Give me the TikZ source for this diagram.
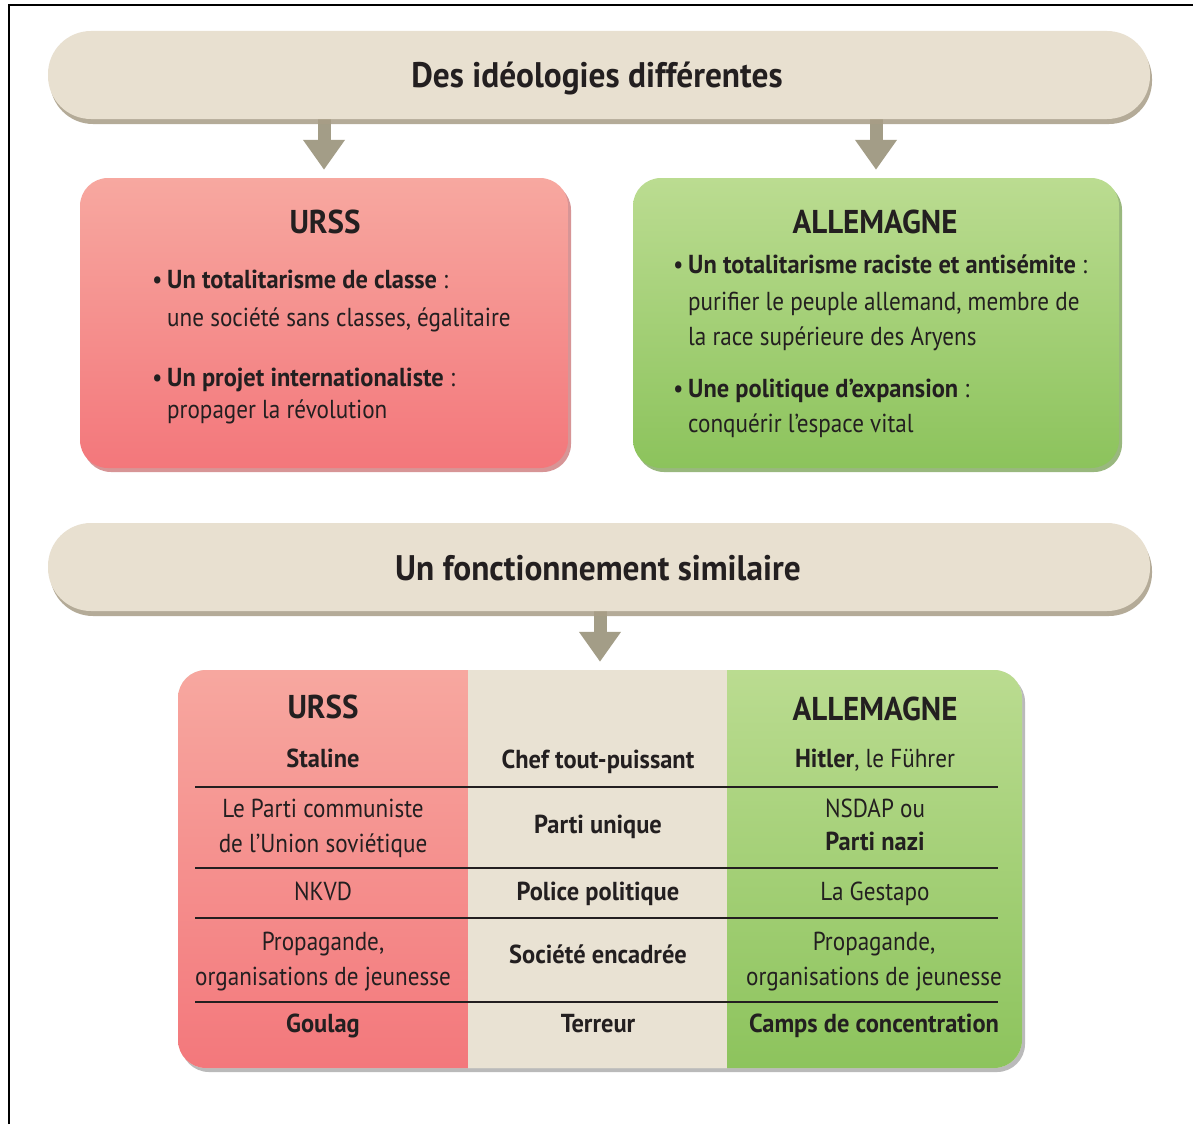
\documentclass[tikz,border=0pt]{standalone}
\usepackage{fontspec}
\setmainfont{PT Sans}[UprightFeatures={FakeStretch=0.89}, BoldFeatures={FakeStretch=0.94}]
\usetikzlibrary{arrows.meta,shadows,backgrounds}
\definecolor{ink}{HTML}{231F20}
\definecolor{beige}{HTML}{E8E0D0}
\definecolor{beigesh}{HTML}{A89D86}
\definecolor{arrowc}{HTML}{A39D87}
\definecolor{pinktop}{HTML}{F7A8A0}
\definecolor{pinkbot}{HTML}{F3777B}
\definecolor{pinksh}{HTML}{C7686A}
\definecolor{greentop}{HTML}{BBDC91}
\definecolor{greenbot}{HTML}{8CC35C}
\definecolor{greensh}{HTML}{6F9A48}
\definecolor{tabbeige}{HTML}{E9E2D3}
\tikzset{
  banner/.style={rounded corners=43pt, fill=beige, minimum width=1102pt, minimum height=88pt, inner sep=0pt,
    drop shadow={shadow xshift=2pt, shadow yshift=-5pt, fill=beigesh, opacity=0.85}},
  pinkbox/.style={rounded corners=28pt, top color=pinktop, bottom color=pinkbot, minimum width=488pt, minimum height=290pt, inner sep=0pt,
    drop shadow={shadow xshift=3pt, shadow yshift=-4pt, fill=pinksh, opacity=0.7}},
  greenbox/.style={rounded corners=28pt, top color=greentop, bottom color=greenbot, minimum width=486pt, minimum height=290pt, inner sep=0pt,
    drop shadow={shadow xshift=3pt, shadow yshift=-4pt, fill=greensh, opacity=0.7}},
  tablebox/.style={rounded corners=28pt, fill=tabbeige, minimum width=844pt, minimum height=398pt, inner sep=0pt,
    drop shadow={shadow xshift=3pt, shadow yshift=-4pt, fill=black!45, opacity=0.6}},
  bigarrow/.style={draw=arrowc, line width=13pt, -{Triangle[width=40pt,length=30pt]}, shorten >=8pt},
  tx/.style={inner sep=0pt, anchor=base, text=ink, font=\fontsize{26}{30}\selectfont},
  txl/.style={tx, anchor=base west},
  tb/.style={tx, font=\fontsize{26}{30}\selectfont\bfseries},
  hd/.style={tx, font=\fontsize{33}{38}\selectfont\bfseries},
  ttl/.style={tx, font=\fontsize{35.5}{40}\selectfont\bfseries},
  sep/.style={draw=ink, line width=2pt}
}
\newcommand{\bul}{\makebox[15pt][l]{•}}
\begin{document}
\begin{tikzpicture}[x=1pt,y=-1pt]
\useasboundingbox (0,0) rectangle (1193,1124);
\begin{pgfonlayer}{background}
\fill[white] (0,0) rectangle (1193,1124);
\end{pgfonlayer}
\draw[line width=2.5pt] (9,1124) -- (9,5) -- (1193,5);

% first banner and boxes
\node[banner] (b1) at (599,75) {};
\node[ttl] (t1) at (597,88) {Des idéologies différentes};
\node[pinkbox] (urss) at (324,323) {};
\node[greenbox] (all) at (876,323) {};
\begin{pgfonlayer}{background}
\draw[bigarrow] (b1.south -| urss.north) -- (urss.north);
\draw[bigarrow] (b1.south -| all.north) -- (all.north);
\end{pgfonlayer}

\node[hd] (u0) at (325,233) {URSS};
\node[txl] (u1) at (152,288) {\bul\textbf{Un totalitarisme de classe} :};
\node[txl] (u2) at (167,326) {une société sans classes, égalitaire};
\node[txl] (u3) at (152,386) {\bul\textbf{Un projet internationaliste} :};
\node[txl] (u4) at (167,418) {propager la révolution};

\node[hd] (a0) at (875,233) {ALLEMAGNE};
\node[txl] (a1) at (673,273) {\bul\textbf{Un totalitarisme raciste et antisémite} :};
\node[txl] (a2) at (688,310) {purifier le peuple allemand, membre de};
\node[txl] (a3) at (688,345) {la race supérieure des Aryens};
\node[txl] (a4) at (673,397) {\bul\textbf{Une politique d’expansion} :};
\node[txl] (a5) at (688,432) {conquérir l’espace vital};

% second banner and table
\node[banner] (b2) at (599,567) {};
\node[ttl] (t2) at (598,580) {Un fonctionnement similaire};
\node[tablebox] (tab) at (600,869) {};
\begin{pgfonlayer}{background}
\draw[bigarrow] (b2.south -| tab.north) -- (tab.north);
\end{pgfonlayer}

\begin{scope}
  \clip[rounded corners=28pt] (178,670) rectangle (1022,1068);
  \shade[top color=pinktop, bottom color=pinkbot] (170,665) rectangle (468,1075);
  \fill[tabbeige] (468,665) rectangle (727,1075);
  \shade[top color=greentop, bottom color=greenbot] (727,665) rectangle (1030,1075);
\end{scope}

\draw[sep] (195,787) -- (998,787);
\draw[sep] (195,868) -- (998,868);
\draw[sep] (195,918) -- (998,918);
\draw[sep] (195,1002) -- (998,1002);

\node[hd] (h1) at (323,718) {URSS};
\node[hd] (h3) at (875,720) {ALLEMAGNE};

\node[tb] (r11) at (323,767) {Staline};
\node[tb] (r12) at (598,768) {Chef tout-puissant};
\node[tx] (r13) at (875,767) {\textbf{Hitler}, le Führer};

\node[tx] (r21a) at (323,817) {Le Parti communiste};
\node[tx] (r21b) at (323,852) {de l’Union soviétique};
\node[tb] (r22) at (598,833) {Parti unique};
\node[tx] (r23a) at (875,817) {NSDAP ou};
\node[tb] (r23b) at (875,850) {Parti nazi};

\node[tx] (r31) at (323,900) {NKVD};
\node[tb] (r32) at (598,900) {Police politique};
\node[tx] (r33) at (875,900) {La Gestapo};

\node[tx] (r41a) at (323,950) {Propagande,};
\node[tx] (r41b) at (323,985) {organisations de jeunesse};
\node[tb] (r42) at (598,963) {Société encadrée};
\node[tx] (r43a) at (874,950) {Propagande,};
\node[tx] (r43b) at (874,985) {organisations de jeunesse};

\node[tb] (r51) at (323,1032) {Goulag};
\node[tb] (r52) at (598,1032) {Terreur};
\node[tb] (r53) at (874,1032) {Camps de concentration};
\end{tikzpicture}
\end{document}
